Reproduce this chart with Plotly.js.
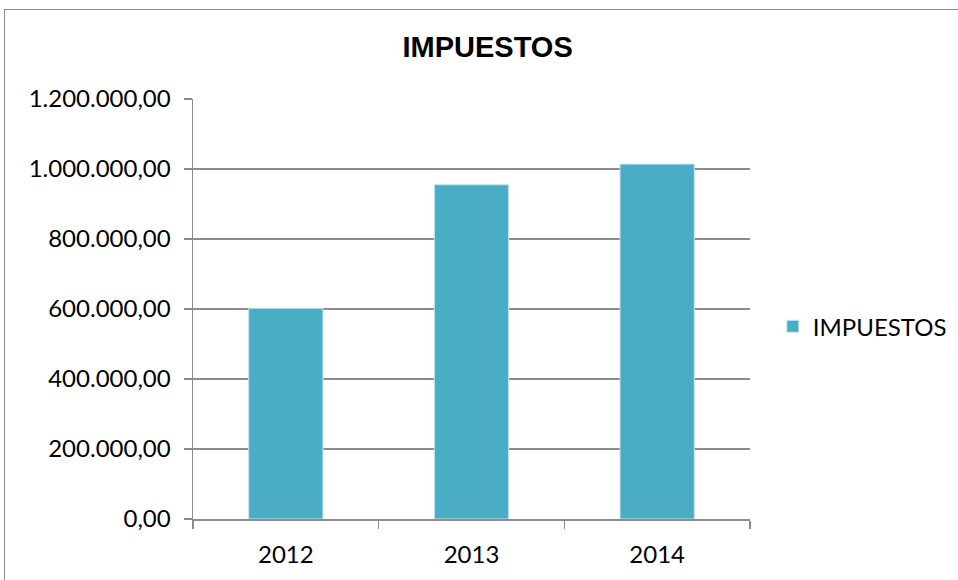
<!DOCTYPE html>
<html>
<head>
<meta charset="utf-8">
<script src="https://cdn.plot.ly/plotly-3.0.1.min.js"></script>
<style>
  body { margin: 0; padding: 0; background: #fff; overflow: hidden; }
  #frame { position: absolute; left: 4px; top: 9px; width: 1000px; height: 620px; border: 1px solid #8c8c8c; }
  #chart { position: absolute; left: 0; top: 0; width: 958px; height: 580px; }
</style>
</head>
<body>
<div id="frame"></div>
<div id="chart"></div>
<script>
const categories = ["2012", "2013", "2014"];
const seriesName = "IMPUESTOS";
const values = [602000, 955000, 1014000];
const yTicks = [0, 200000, 400000, 600000, 800000, 1000000, 1200000];

const trace = {
  type: "bar",
  name: seriesName,
  x: categories,
  y: values,
  marker: { color: "#4BACC6", line: { color: "#c6e4ee", width: 1 } },
  showlegend: true,
  hoverinfo: "x+y"
};

const tickFont = { family: "Lato, Open Sans, sans-serif", size: 24, color: "#000" };

const layout = {
  width: 958,
  height: 580,
  paper_bgcolor: "rgba(0,0,0,0)",
  plot_bgcolor: "rgba(0,0,0,0)",
  margin: { l: 193, r: 208, t: 99, b: 61, autoexpand: false },
  separators: ",.",
  bargap: 0.6,
  title: {
    text: "<b>IMPUESTOS</b>",
    font: { family: "Liberation Sans, Arial, sans-serif", size: 29, color: "#000" },
    x: 0.509, xanchor: "center", y: 0.919, yanchor: "middle"
  },
  xaxis: {
    type: "category",
    showline: true, linecolor: "#8c8c8c", linewidth: 1.5,
    ticks: "outside", ticklen: 8, tickcolor: "#8c8c8c", tickwidth: 1.5,
    tickson: "boundaries",
    showgrid: false,
    ticklabelstandoff: 14,
    tickfont: tickFont
  },
  yaxis: {
    range: [0, 1200000],
    tickvals: yTicks,
    tickformat: ",.2f",
    showline: true, linecolor: "#8c8c8c", linewidth: 1.5,
    ticks: "outside", ticklen: 8, tickcolor: "#8c8c8c", tickwidth: 1.5,
    showgrid: true, gridcolor: "#8c8c8c", gridwidth: 1.5,
    zeroline: false,
    ticklabelstandoff: 8,
    tickfont: tickFont
  },
  legend: {
    x: 1.041, xanchor: "left", y: 0.458, yanchor: "middle",
    font: tickFont,
    bgcolor: "rgba(0,0,0,0)",
    itemwidth: 30
  }
};

Plotly.newPlot("chart", [trace], layout, { displayModeBar: false, staticPlot: true });
</script>
</body>
</html>
